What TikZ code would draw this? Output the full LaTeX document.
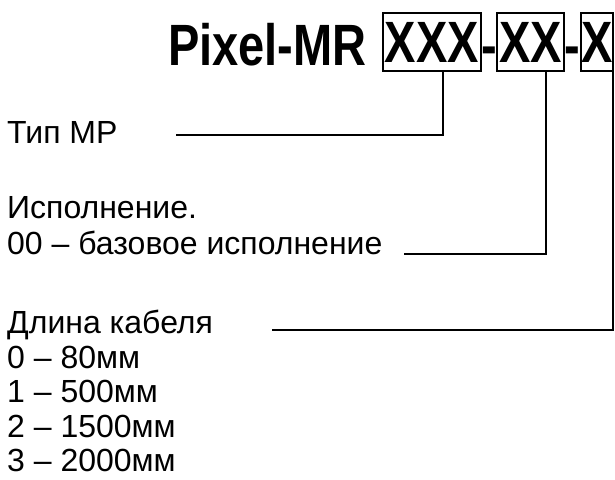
\documentclass[tikz,border=0pt]{standalone}
\usepackage{fontspec}
\setmainfont{Liberation Sans}
\newcommand{\tallt}[1]{\scalebox{1}[1.24]{#1}}
\begin{document}
\begin{tikzpicture}[x=1pt,y=-1pt,
  body/.style={anchor=base west, inner sep=0pt, font=\fontsize{32}{37}\selectfont},
  ttl/.style={font=\fontsize{47}{56}\selectfont\bfseries},
  box/.style={draw, line width=2.2pt, inner sep=0pt, ttl},
  conn/.style={line width=1.3pt}]
\useasboundingbox (0,0) rectangle (615,479);
% title
\node[ttl, anchor=base west, inner sep=0pt] (t) at (168,65) {\tallt{Pixel-MR}};
\node[box, minimum width=98pt, minimum height=58pt] (b1) at (432,42) {\raisebox{-2pt}{\tallt{XXX}}};
\node[ttl, anchor=base, inner sep=0pt] (h1) at (489,65) {\tallt{-}};
\node[box, minimum width=67pt, minimum height=58pt] (b2) at (530.5,42) {\raisebox{-2pt}{\tallt{XX}}};
\node[ttl, anchor=base, inner sep=0pt] (h2) at (572.5,65) {\tallt{-}};
\node[box, minimum width=32pt, minimum height=58pt] (b3) at (597,42) {\raisebox{-2pt}{\tallt{X}}};
% texts
\node[body] (t1) at (7,143) {Тип МР};
\node[body] (t2) at (7,218) {Исполнение.};
\node[body] (t3) at (7,254) {00 – базовое исполнение};
\node[body] (t4) at (7,333) {Длина кабеля};
\node[body] (t5) at (7,368) {0 – 80мм};
\node[body] (t6) at (7,402.5) {1 – 500мм};
\node[body] (t7) at (7,437) {2 – 1500мм};
\node[body] (t8) at (7,471) {3 – 2000мм};
% connectors
\coordinate (e1) at (176,135);
\coordinate (e2) at (404,254);
\coordinate (e3) at (272,330);
\draw[conn] ([xshift=11pt]b1.south) |- (e1);
\draw[conn] ([xshift=15.5pt]b2.south) |- (e2);
\draw[conn] ([xshift=16pt]b3.south) |- (e3);
\end{tikzpicture}
\end{document}
